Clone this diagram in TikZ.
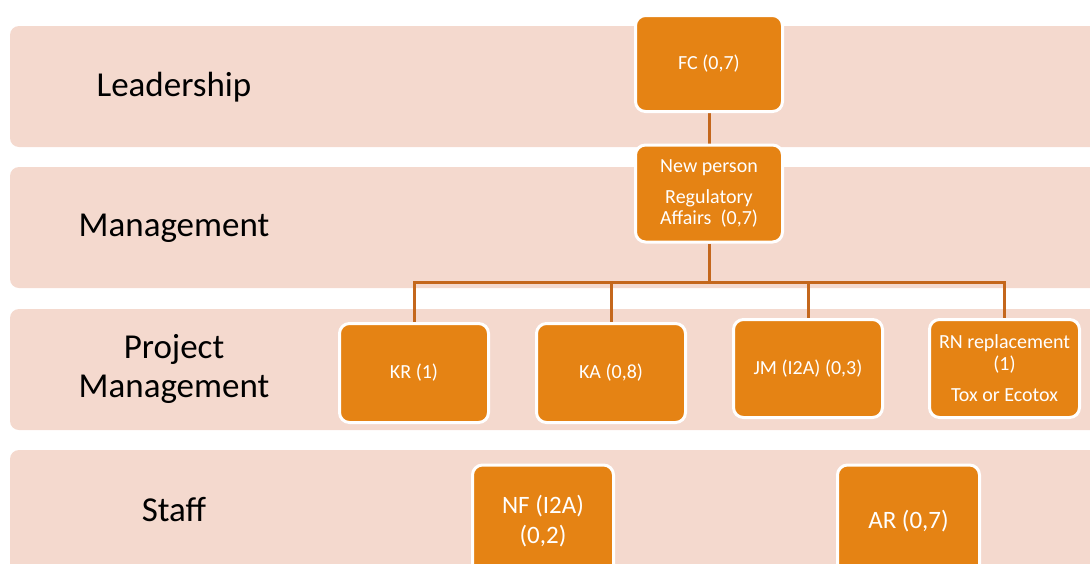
\documentclass[tikz,border=0pt]{standalone}
\usepackage{fontspec}
\setmainfont{Carlito}
\usetikzlibrary{backgrounds}
\definecolor{bandfill}{HTML}{F4D9CE}
\definecolor{boxfill}{HTML}{E58314}
\definecolor{linkcol}{HTML}{C4671C}
\tikzset{
  band/.style={fill=bandfill, draw=none, rounded corners=9pt},
  tier/.style={font=\fontsize{35}{39}\selectfont, text=black, align=center},
  orgbox/.style={fill=boxfill, draw=white, line width=3pt, rounded corners=10pt,
    text=white, align=center, inner sep=0pt,
    font=\fontsize{20}{21.5}\selectfont},
  staffbox/.style={orgbox, font=\fontsize{25}{30}\selectfont},
  link/.style={draw=linkcol, line width=3pt}
}
\begin{document}
\begin{tikzpicture}[x=1pt, y=-1pt]
  \useasboundingbox (0,0) rectangle (1090,563);
  \clip (0,0) rectangle (1090,563);

  % position boxes
  \node[orgbox, minimum width=147pt, minimum height=96pt] (fc) at (709,63.5) {FC (0,7)};
  \node[orgbox, minimum width=147pt, minimum height=97pt] (np) at (709,193.5)
    {New person\\[9pt]Regulatory\\Affairs\ \ (0,7)};
  \node[orgbox, minimum width=149pt, minimum height=99pt] (kr) at (414,373) {KR (1)};
  \node[orgbox, minimum width=149pt, minimum height=99pt] (ka) at (611,373) {KA (0,8)};
  \node[orgbox, minimum width=149pt, minimum height=98pt] (jm) at (808,368.5) {JM (I2A) (0,3)};
  \node[orgbox, minimum width=150pt, minimum height=98pt] (rn) at (1004.5,368.5)
    {RN replacement\\(1)\\[10pt]Tox or Ecotox};
  % staff boxes run past the lower edge
  \node[staffbox, minimum width=141pt, minimum height=112pt] (nf) at (543,521)
    {NF (I2A)\\(0,2)};
  \node[staffbox, minimum width=142pt, minimum height=112pt] (ar) at (908.5,521) {AR (0,7)};

  % tier labels
  \node[tier] (l1) at (174,87) {Leadership};
  \node[tier] (l2) at (174,228) {Management};
  \node[tier] (l3) at (174,369) {Project\\Management};
  \node[tier] (l4) at (174,510) {Staff};

  \begin{scope}[on background layer]
    % tier bands
    \fill[band] (10,26) rectangle (1110,147);
    \fill[band] (10,167) rectangle (1110,288);
    \fill[band] (10,309) rectangle (1110,430);
    \fill[band] (10,450) rectangle (1110,590);
    % reporting lines
    \coordinate (bus) at (709,282);
    \draw[link] (fc) -- (np);
    \draw[link] (np) -- (bus);
    \draw[link] (bus) -| (kr);
    \draw[link] (bus) -| (ka);
    \draw[link] (bus) -| (jm);
    \draw[link] (bus) -| (rn);
  \end{scope}
\end{tikzpicture}
\end{document}
